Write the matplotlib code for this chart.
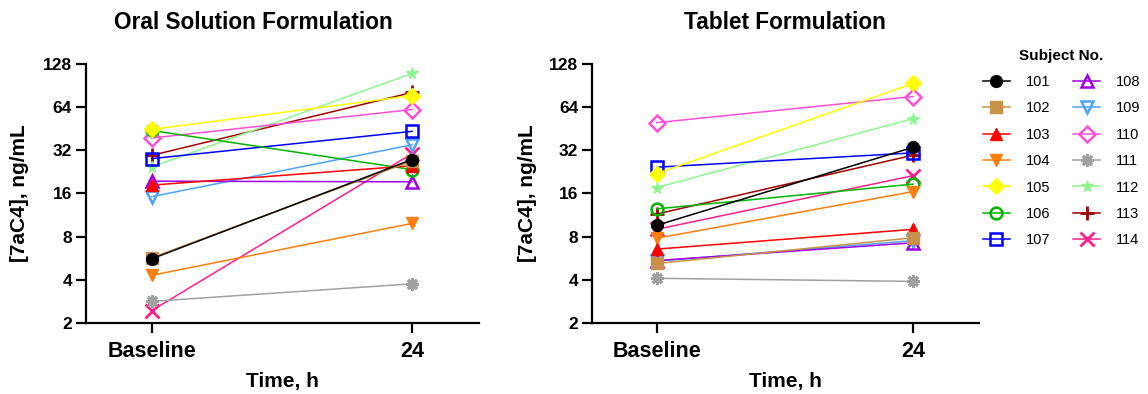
import matplotlib
matplotlib.use("Agg")
import matplotlib.pyplot as plt
from matplotlib.ticker import FixedLocator, NullLocator

plt.rcParams['font.family'] = ['Liberation Sans', 'DejaVu Sans']

# subject IDs and their styles
subjects = ["101", "102", "103", "104", "105", "106", "107",
            "108", "109", "110", "111", "112", "113", "114"]
colors = ["#000000", "#C8914A", "#FF0000", "#FF7F0E", "#FFFF00", "#00B400", "#0000FF",
          "#A000E0", "#4DA3FF", "#FF4FD8", "#A0A0A0", "#90F590", "#A00000", "#FF1F8A"]
markers = ["o", "s", "^", "v", "D", "o", "s",
           "^", "v", "D", (8, 2, 0), "*", "+", "x"]
filled = [True, True, True, True, True, False, False,
          False, False, False, True, True, True, True]

timepoints = ["Baseline", "24"]

# [7aC4] ng/mL, baseline and 24 h
oral_baseline = [5.6, 5.7, 18.3, 4.3, 44.8, 44.0, 28.0,
                 19.5, 15.2, 39.0, 2.83, 24.5, 29.5, 2.44]
oral_24h = [27.6, 27.0, 25.0, 9.9, 77.0, 23.5, 43.4,
            19.3, 35.0, 61.6, 3.75, 110.0, 81.0, 30.3]

tablet_baseline = [9.6, 5.2, 6.55, 7.8, 22.0, 12.5, 24.4,
                   5.45, 5.4, 49.9, 4.1, 17.6, 11.5, 9.0]
tablet_24h = [33.6, 7.86, 9.0, 16.5, 93.6, 18.6, 30.7,
              7.25, 7.5, 75.9, 3.9, 53.2, 29.6, 21.3]

yticks = [2, 4, 8, 16, 32, 64, 128]

fig = plt.figure(figsize=(11.48, 3.94), dpi=100)
ax1 = fig.add_axes([0.0749, 0.1802, 0.3423, 0.6574])
ax2 = fig.add_axes([0.5157, 0.1802, 0.3371, 0.6574])


def draw_panel(ax, base, after):
    handles = []
    n = len(subjects)
    for i, s in enumerate(subjects):
        c = colors[i]
        # first subject ends up on top
        kw = dict(color=c, marker=markers[i], markersize=8.5, linewidth=1.1,
                  markeredgecolor=c, label=s, zorder=3 + (n - i) * 0.1)
        if markers[i] in ("+", "x"):
            kw.update(markersize=10, markeredgewidth=2)
        elif markers[i] == (8, 2, 0):
            kw.update(markersize=9, markeredgewidth=2.2)
        elif filled[i]:
            kw.update(markerfacecolor=c, markeredgewidth=1)
        else:
            kw.update(markerfacecolor="none", markeredgewidth=1.8)
        h, = ax.plot([0, 1], [base[i], after[i]], clip_on=False, **kw)
        handles.append(h)

    ax.set_yscale("log", base=2)
    ax.set_ylim(2, 128)
    ax.set_xlim(-0.252, 1.257)
    ax.yaxis.set_major_locator(FixedLocator(yticks))
    ax.yaxis.set_minor_locator(NullLocator())
    ax.set_yticklabels([str(t) for t in yticks])
    ax.set_xticks([0, 1])
    ax.set_xticklabels(timepoints)

    for side in ("top", "right"):
        ax.spines[side].set_visible(False)
    for side in ("left", "bottom"):
        ax.spines[side].set_linewidth(1.6)

    ax.tick_params(axis="y", length=7, width=1.6, pad=3, labelsize=12.5)
    ax.tick_params(axis="x", length=7, width=1.6, pad=6, labelsize=15.5)
    for lab in ax.get_xticklabels() + ax.get_yticklabels():
        lab.set_fontweight("bold")

    ax.set_xlabel("Time, h", fontsize=15, fontweight="bold", va="center")
    ax.xaxis.set_label_coords(0.5, -0.227)
    ax.set_ylabel("[7aC4], ng/mL", fontsize=15, fontweight="bold", va="center")
    ax.yaxis.set_label_coords(-0.168, 0.5)
    return handles


handles = draw_panel(ax1, oral_baseline, oral_24h)
draw_panel(ax2, tablet_baseline, tablet_24h)

fig.text(0.2204, 0.944, "Oral Solution Formulation", fontsize=16.3,
         fontweight="bold", ha="center", va="center")
fig.text(0.6835, 0.944, "Tablet Formulation", fontsize=16.3,
         fontweight="bold", ha="center", va="center")

leg = fig.legend(handles=handles, ncol=2, loc="upper left",
                 bbox_to_anchor=(0.8445, 0.91), frameon=False,
                 fontsize=10.5, handlelength=1.9, handletextpad=1.05,
                 columnspacing=1.55, labelspacing=0.85,
                 title="Subject No.", title_fontproperties={"weight": "bold", "size": 11})

fig.savefig("out.png", dpi=100)
